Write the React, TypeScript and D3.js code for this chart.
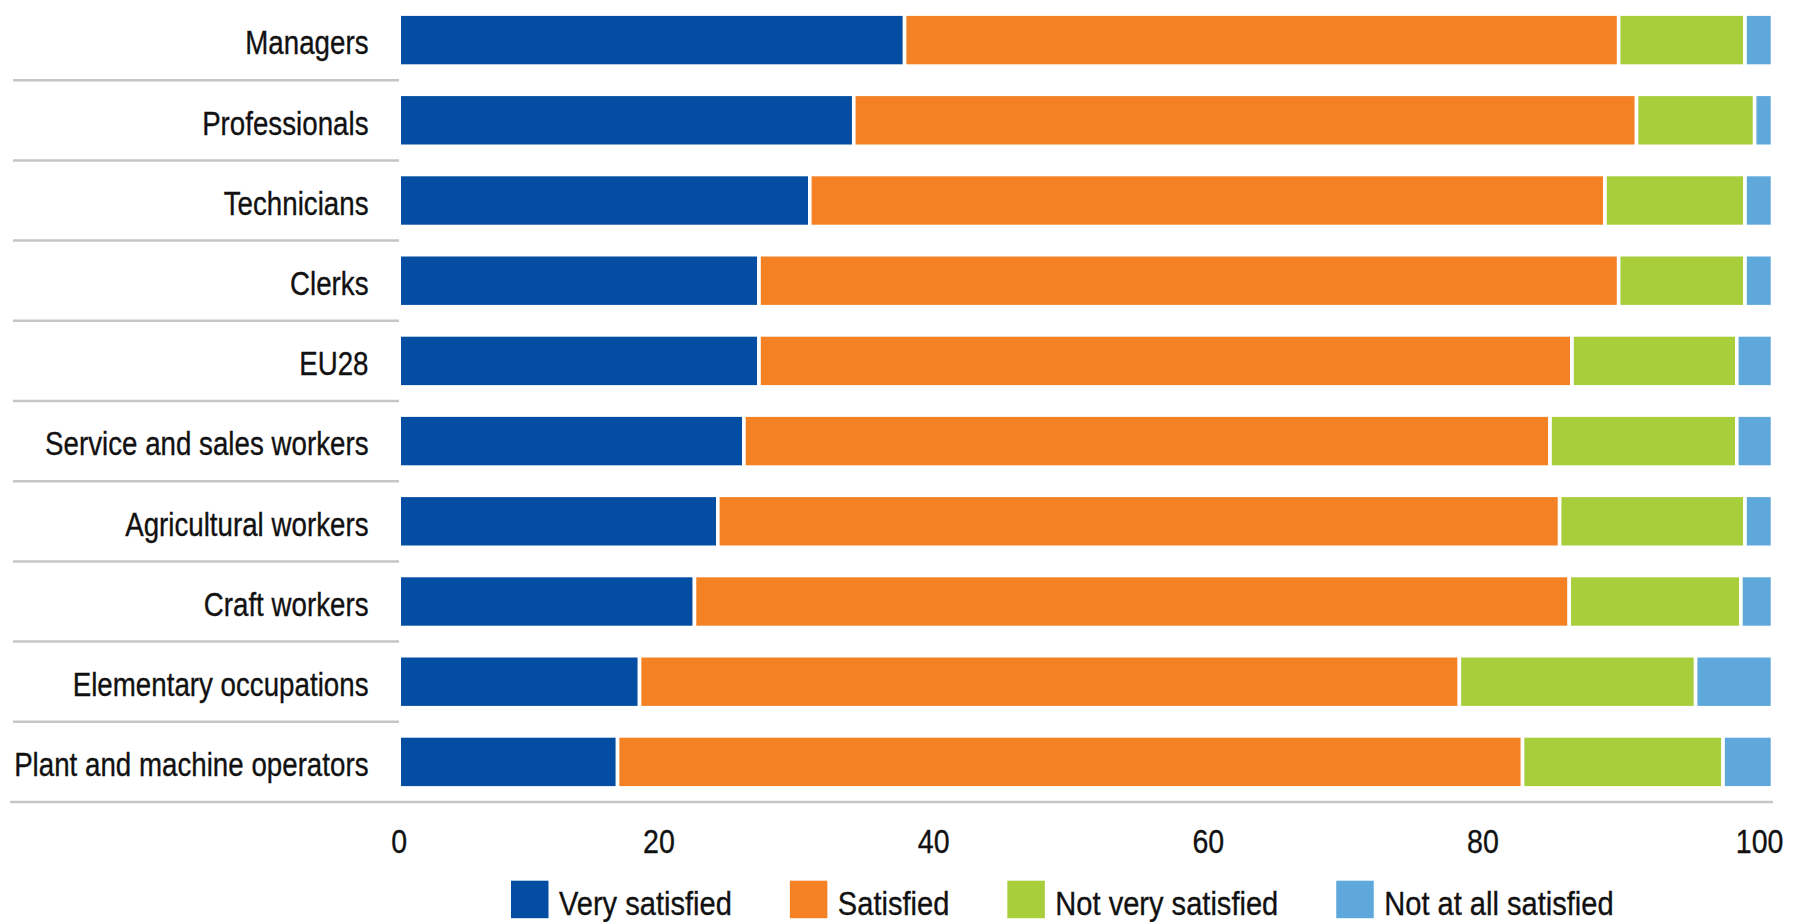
import React, { useEffect, useRef } from "react";
import * as d3 from "d3";

const categories = [
  "Managers",
  "Professionals",
  "Technicians",
  "Clerks",
  "EU28",
  "Service and sales workers",
  "Agricultural workers",
  "Craft workers",
  "Elementary occupations",
  "Plant and machine operators",
];

const seriesNames = ["Very satisfied", "Satisfied", "Not very satisfied", "Not at all satisfied"];

const verySatisfied = [36.8, 33.1, 29.9, 26.2, 26.2, 25.1, 23.2, 21.5, 17.5, 15.9];
const satisfied = [52.0, 57.0, 57.9, 62.6, 59.2, 58.7, 61.3, 63.7, 59.7, 65.9];
const notVerySatisfied = [9.2, 8.6, 10.2, 9.2, 12.0, 13.6, 13.5, 12.5, 17.2, 14.6];
const notAtAllSatisfied = [2.0, 1.3, 2.0, 2.0, 2.6, 2.6, 2.0, 2.3, 5.6, 3.6];

const tickValues = [0, 20, 40, 60, 80, 100];

const colors = ["#034ea2", "#f48224", "#a8ce3b", "#5ea8dc"];

const W = 1793;
const H = 922;
const FONT = "'Liberation Sans', Arial, sans-serif";

export default function App() {
  const ref = useRef<SVGSVGElement | null>(null);

  useEffect(() => {
    document.body.style.margin = "0";
    const svg = d3.select(ref.current);
    svg.selectAll("*").remove();

    const x = d3.scaleLinear().domain([0, 100]).range([399.2, 1772.5]);
    const y = d3.scaleBand<string>().domain(categories).range([0, 802]).padding(0);
    const barH = 52;

    const seriesData = [verySatisfied, satisfied, notVerySatisfied, notAtAllSatisfied];
    const rows = categories.map((c, i) => {
      const o: any = { cat: c };
      seriesNames.forEach((s, k) => (o[s] = seriesData[k][i]));
      return o;
    });
    const stacked = d3.stack<any>().keys(seriesNames)(rows);

    const g = svg.append("g");

    const addText = (
      parent: any,
      tx: number,
      ty: number,
      str: string,
      size: number,
      anchor: string,
      sx: number
    ) =>
      parent
        .append("text")
        .attr("transform", `translate(${tx},${ty}) scale(${sx},1)`)
        .attr("text-anchor", anchor)
        .attr("font-family", FONT)
        .attr("font-size", size)
        .attr("fill", "#111")
        .attr("stroke", "#111")
        .attr("stroke-width", 0.35)
        .text(str);

    // separators
    categories.slice(1).forEach((c) => {
      const yy = y(c)!;
      g.append("line")
        .attr("x1", 13)
        .attr("x2", 399)
        .attr("y1", yy)
        .attr("y2", yy)
        .attr("stroke", "#c6c6c6")
        .attr("stroke-width", 2.5);
    });

    // bars
    stacked.forEach((layer, k) => {
      g.append("g")
        .selectAll("rect")
        .data(layer)
        .join("rect")
        .attr("x", (d) => x(d[0]))
        .attr("width", (d) => x(d[1]) - x(d[0]))
        .attr("y", (d) => y(d.data.cat)! + y.bandwidth() / 2 - barH / 2)
        .attr("height", barH)
        .attr("fill", colors[k])
        .attr("stroke", "#ffffff")
        .attr("stroke-width", 3.6);
    });

    // bottom axis line
    g.append("line")
      .attr("x1", 10)
      .attr("x2", 1773)
      .attr("y1", 802)
      .attr("y2", 802)
      .attr("stroke", "#c6c6c6")
      .attr("stroke-width", 2.5);

    // category labels
    const cl = g.append("g");
    categories.forEach((c) => {
      addText(cl, 368.5, y(c)! + y.bandwidth() / 2 + 14.3, c, 33, "end", 0.84);
    });

    // tick labels
    const tl = g.append("g");
    tickValues.forEach((v) => {
      const tx = v === 0 ? x(v) : v === 100 ? x(v) + 11 : x(v) + 1;
      addText(tl, tx, 852.7, String(v), 34, v === 0 ? "middle" : "end", 0.84);
    });

    // legend
    const lg = g.append("g");
    let cx = 511;
    const sq = 37.5;
    const lsx = 0.855;
    seriesNames.forEach((s, k) => {
      lg.append("rect")
        .attr("x", cx)
        .attr("y", 880.7)
        .attr("width", sq)
        .attr("height", sq)
        .attr("fill", colors[k]);
      const t = addText(lg, cx + 48, 915, s, 34, "start", lsx);
      const w = (t.node() as SVGTextElement).getComputedTextLength() * lsx;
      cx = cx + 48 + w + 58;
    });
  }, []);

  return (
    <svg
      ref={ref}
      width={W}
      height={H}
      style={{ display: "block", background: "#fff" }}
    />
  );
}
